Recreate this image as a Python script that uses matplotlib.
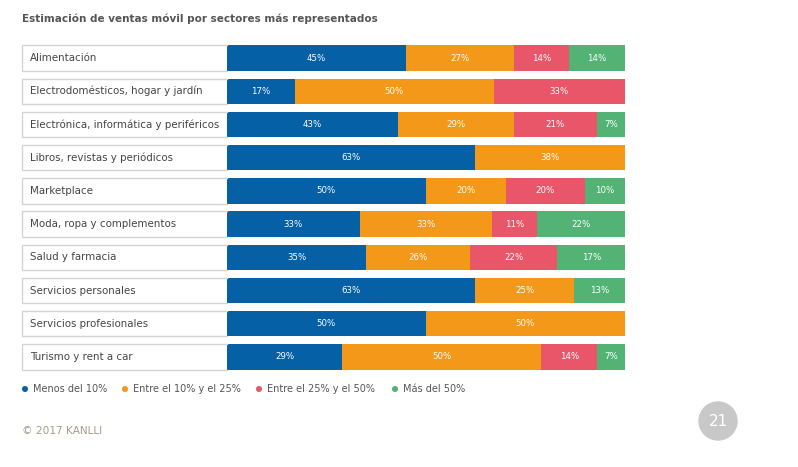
import matplotlib
matplotlib.use("Agg")
import matplotlib.pyplot as plt
from matplotlib.patches import Rectangle, Circle
import numpy as np

categories = ["Alimentación", "Electrodomésticos, hogar y jardín",
              "Electrónica, informática y periféricos", "Libros, revistas y periódicos",
              "Marketplace", "Moda, ropa y complementos", "Salud y farmacia",
              "Servicios personales", "Servicios profesionales", "Turismo y rent a car"]
series_names = ["Menos del 10%", "Entre el 10% y el 25%", "Entre el 25% y el 50%", "Más del 50%"]
menos10 = [45, 17, 43, 63, 50, 33, 35, 63, 50, 29]
entre10_25 = [27, 50, 29, 38, 20, 33, 26, 25, 50, 50]
entre25_50 = [14, 33, 21, 0, 20, 11, 22, 0, 0, 14]
mas50 = [14, 0, 7, 0, 10, 22, 17, 13, 0, 7]
colors = ["#0560a6", "#f39819", "#e9566a", "#52b374"]

W, H = 798, 467
fig = plt.figure(figsize=(W/100, H/100), dpi=100)
fig.patch.set_facecolor("white")

left_px, right_px = 22, 625
top_px, bot_px = 41.4, 373.6
ax = fig.add_axes([left_px/W, 1-bot_px/H, (right_px-left_px)/W, (bot_px-top_px)/H])
label_w = 205/398*100
ax.set_xlim(-label_w, 100)
ax.set_ylim(len(categories)-0.5, -0.5)
ax.axis("off")

data = np.array([menos10, entre10_25, entre25_50, mas50], dtype=float)
totals = data.sum(axis=0)
bh = 0.76
y = np.arange(len(categories))
lefts = np.zeros(len(categories))
for k in range(4):
    widths = data[k] / totals * 100
    ax.barh(y, widths, left=lefts, height=bh, color=colors[k], edgecolor="none")
    for i in range(len(categories)):
        if data[k][i] > 0:
            ax.text(lefts[i] + widths[i]/2, y[i], f"{int(data[k][i])}%", ha="center", va="center",
                    color="white", fontsize=6.2)
    lefts += widths

border = "#d4d4d4"
for i, c in enumerate(categories):
    y0 = y[i] - bh/2
    ax.plot([0, -label_w, -label_w, 0], [y0, y0, y0+bh, y0+bh], color=border, lw=1.0, clip_on=False)
    ax.text(-label_w + 8/398*100, y[i], c, ha="left", va="center", fontsize=7.35, color="#444444")

fig.text(22/W, 1-19/H, "Estimación de ventas móvil por sectores más representados",
         ha="left", va="center", fontsize=7.5, fontweight="bold", color="#555555")

leg_x = [25, 125, 259, 395]
for k, name in enumerate(series_names):
    fig.patches.append(Circle((leg_x[k], H-389), 2.3, transform=None, color=colors[k], figure=fig))
    fig.text((leg_x[k]+8)/W, 1-389/H, name, ha="left", va="center", fontsize=7, color="#555555")

fig.text(22/W, 1-431/H, "© 2017 KANLLI", ha="left", va="center", fontsize=7.6, color="#a89a8c")
fig.patches.append(Circle((718, H-421), 19, transform=None, color="#c8c8c8", figure=fig))
fig.text(718/W, 1-421/H, "21", ha="center", va="center", fontsize=11, color="white")

fig.savefig("out.png", dpi=100, facecolor="white")
